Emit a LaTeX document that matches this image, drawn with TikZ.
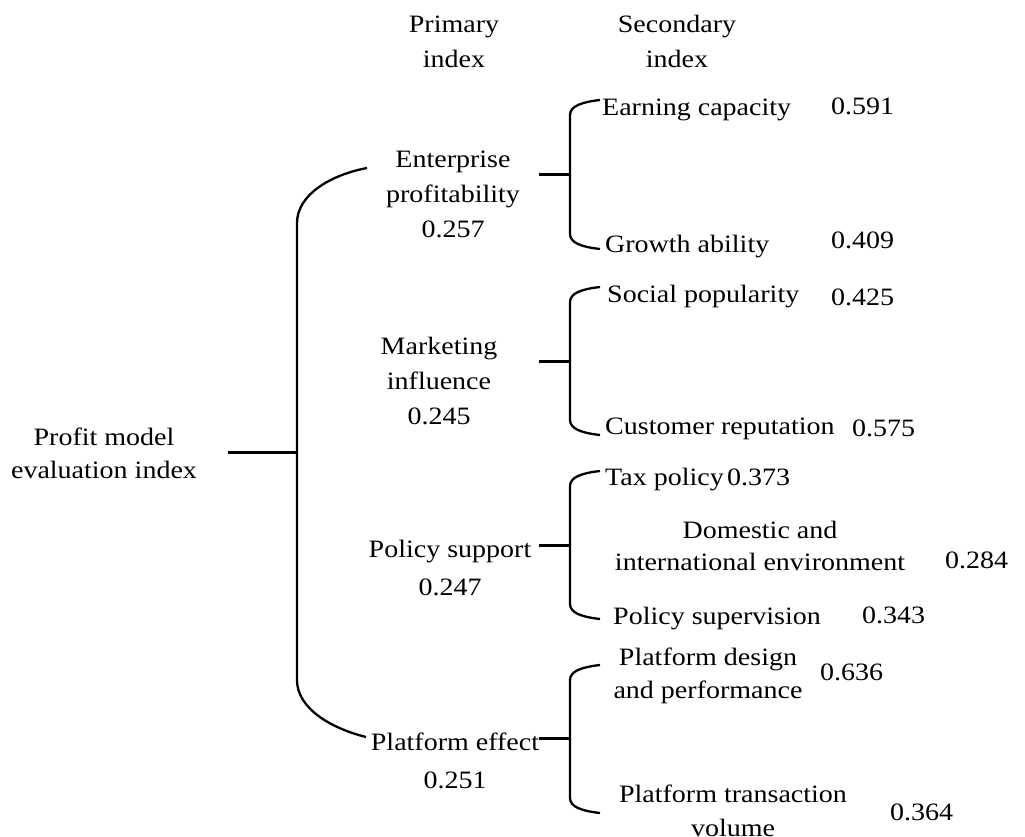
\documentclass[tikz,border=0pt]{standalone}
\usepackage{fontspec}
\setmainfont{Liberation Serif}[FakeStretch=1.12]
\tikzset{
	lbl/.style = {align = center, anchor = base},
	sub/.style = {anchor = base west},
	brace/.style = {line width = 2.3pt},
	stub/.style = {line width = 3pt}
}
\begin{document}
\begin{tikzpicture}[x = 1pt, y = -1pt, every node/.style = {inner sep = 0pt, font = \fontsize{25}{35}\selectfont}]
				\useasboundingbox (0,0) rectangle (1025,836);
				\node[lbl] (h1) at (454,67) {Primary \\ index};
				\node[lbl] (h2) at (677,67) {Secondary \\ index};
				\node[lbl] (root) at (104,478) {Profit model \\[-2pt] evaluation index};
				\node[lbl] (ent) at (453,237) {Enterprise \\ profitability \\ 0.257};
				\node[lbl] (mkt) at (439,424) {Marketing \\ influence \\ 0.245};
				\node[lbl] (pol) at (450,595) {Policy support \\[3pt] 0.247};
				\node[lbl] (plt) at (455,788) {Platform effect \\[3pt] 0.251};
				\node[sub] (earn) at (602,115) {Earning capacity};
				\node[sub] (grow) at (605,252) {Growth ability};
				\node[sub] (soc) at (607,302) {Social popularity};
				\node[sub] (cust) at (605,434) {Customer reputation};
				\node[sub] (tax) at (605,485) {Tax policy};
				\node[lbl] (dom) at (760,570) {Domestic and \\[-3pt] international environment};
				\node[sub] (sup) at (613,624) {Policy supervision};
				\node[lbl] (pdes) at (708,698) {Platform design \\[-2pt] and performance};
				\node[lbl] (ptra) at (733,836) {Platform transaction \\[-1pt] volume};
				\node[sub] (wearn) at (831,114) {0.591};
				\node[sub] (wgrow) at (831,248) {0.409};
				\node[sub] (wsoc) at (831,305) {0.425};
				\node[sub] (wcust) at (852,436) {0.575};
				\node[sub] (wtax) at (727,485) {0.373};
				\node[sub] (wdom) at (945,568) {0.284};
				\node[sub] (wsup) at (862,623) {0.343};
				\node[sub] (wpdes) at (820,680) {0.636};
				\node[sub] (wptra) at (890,820) {0.364};
				\coordinate (r0) at (228,452);
				\coordinate (r1) at (297,452);
				\coordinate (t1) at (367,168);
				\coordinate (t2) at (297,223);
				\coordinate (t3) at (297,680);
				\coordinate (t4) at (366,737);
				\draw[stub] (r0) -- (r1);
				\draw[brace] (t1) .. controls (330,175) and (297,195) .. (t2) -- (t3) .. controls (297,708) and (330,728) .. (t4);
				\foreach \g/\ym/\ya/\yb in {e/174/115/234, m/361/302/420, p/545/486/604, f/738/680/798} {
					\coordinate (\g0) at (539,\ym);
					\coordinate (\g1) at (570,\ym);
					\draw[stub] (\g0) -- (\g1);
					\draw[brace] (600,\ya-15) .. controls (582,\ya-13) and (570,\ya-9) .. (570,\ya) -- (570,\yb) .. controls (570,\yb+9) and (582,\yb+13) .. (600,\yb+15);
				}
			\end{tikzpicture}
\end{document}
